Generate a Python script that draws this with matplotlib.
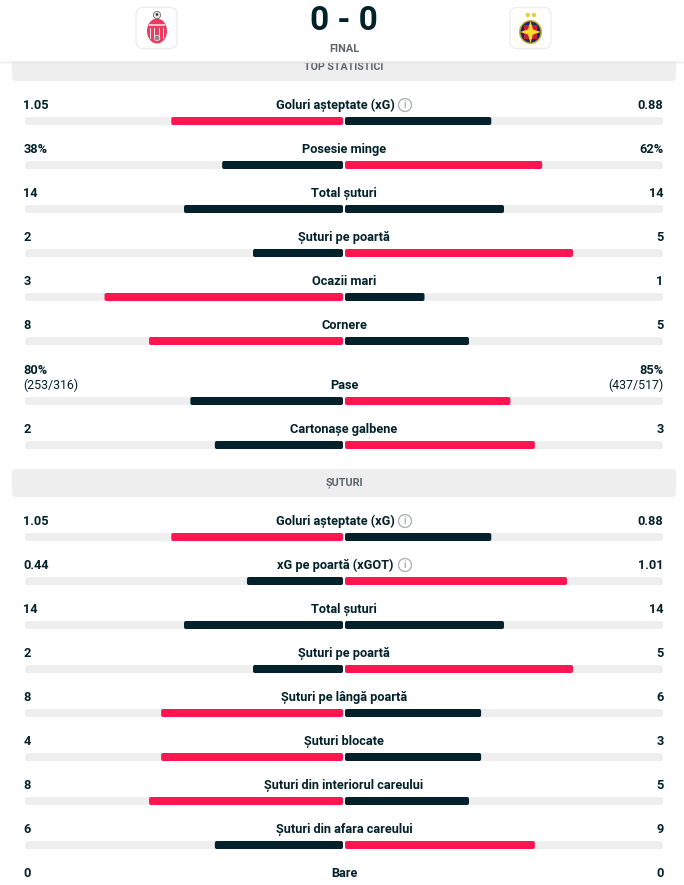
import matplotlib
matplotlib.use("Agg")
import matplotlib.pyplot as plt
from matplotlib.patches import FancyBboxPatch, Circle, Ellipse, Rectangle, Polygon

plt.rcParams["font.family"] = ["Roboto", "DejaVu Sans"]

# colours
DARK = "#02212a"
RED = "#ff1650"
TRACK = "#eeeeee"
GREY = "#5c6468"

# top stats
top_labels = ["Goluri așteptate (xG)", "Posesie minge", "Total șuturi", "Șuturi pe poartă",
              "Ocazii mari", "Cornere", "Pase", "Cartonașe galbene"]
top_home = [1.05, 38, 14, 2, 3, 8, 80, 2]
top_away = [0.88, 62, 14, 5, 1, 5, 85, 3]
top_home_text = ["1.05", "38%", "14", "2", "3", "8", "80%", "2"]
top_away_text = ["0.88", "62%", "14", "5", "1", "5", "85%", "3"]
# home share of the bar, percent
top_share = [54, 38, 50, 28.3, 75, 61, 48, 40.3]
top_y = [105, 149, 193, 237, 281, 325, 385, 429]

# shots
shot_labels = ["Goluri așteptate (xG)", "xG pe poartă (xGOT)", "Total șuturi", "Șuturi pe poartă",
               "Șuturi pe lângă poartă", "Șuturi blocate", "Șuturi din interiorul careului",
               "Șuturi din afara careului", "Bare"]
shot_home = [1.05, 0.44, 14, 2, 8, 4, 8, 6, 0]
shot_away = [0.88, 1.01, 14, 5, 6, 3, 5, 9, 0]
shot_home_text = ["1.05", "0.44", "14", "2", "8", "4", "8", "6", "0"]
shot_away_text = ["0.88", "1.01", "14", "5", "6", "3", "5", "9", "0"]
shot_share = [54, 30.2, 50, 28.3, 57.2, 57.2, 61, 40.3, 50]
shot_y = [521, 565, 609, 653, 697, 741, 785, 829, 873]

# these labels carry an info icon, and sit left of centre to make room for it
info_labels = ["Goluri așteptate (xG)", "xG pe poartă (xGOT)"]

fig = plt.figure(figsize=(6.84, 8.85), dpi=100)
ax = fig.add_axes([0, 0, 1, 1])
ax.set_xlim(0, 684)
ax.set_ylim(885, 0)
ax.axis("off")

LEFT, MID_L, MID_R, RIGHT = 25, 343, 345, 663
HALF = MID_L - LEFT
SIZE = 9.2


def rbox(x, y, w, h, color, r=2, z=2):
    ax.add_patch(FancyBboxPatch((x, y), w, h, boxstyle=f"round,pad=0,rounding_size={r}",
                                fc=color, ec="none", zorder=z))


def info_icon(x, y):
    ax.add_patch(Circle((x, y), 6.5, fc="white", ec="#a8acae", lw=0.9, zorder=3))
    ax.text(x, y, "i", ha="center", va="center", fontsize=7.5, color="#8a8f92", zorder=4)


def stat_row(label, home, away, home_text, away_text, share, y):
    # the Pase row has its percentages one line higher
    side_y = y - 15 if label == "Pase" else y
    label_x = 344
    if label in info_labels:
        label_x = 335.5
        info_icon(405, y)
    ax.text(label_x, y + 0.5, label, ha="center", va="center", fontsize=SIZE, fontweight="bold", color=DARK)
    ax.text(LEFT - 1.5, side_y + 0.5, home_text, ha="left", va="center", fontsize=SIZE, fontweight="bold", color=DARK)
    ax.text(RIGHT + 0.5, side_y + 0.5, away_text, ha="right", va="center", fontsize=SIZE, fontweight="bold", color=DARK)
    bar_y = y + 12
    rbox(LEFT, bar_y, MID_L - LEFT, 8, TRACK, z=1)
    rbox(MID_R, bar_y, RIGHT - MID_R, 8, TRACK, z=1)
    home_w = HALF * share / 100
    away_w = HALF * (100 - share) / 100
    rbox(MID_L - home_w, bar_y, home_w, 8, RED if home > away else DARK)
    rbox(MID_R, bar_y, away_w, 8, RED if away > home else DARK)


# section bands
rbox(12, 40, 664, 41, TRACK, r=4)
rbox(12, 469, 664, 28, TRACK, r=4)
ax.text(344, 483, "ȘUTURI", ha="center", va="center", fontsize=7.8, fontweight="bold", color=GREY)

# header
ax.add_patch(Rectangle((0, 0), 684, 61, fc="white", ec="none", zorder=3))
ax.plot([0, 684], [61.5, 61.5], color="#e8e8e8", lw=1, zorder=4)
ax.text(344, 67, "TOP STATISTICI", ha="center", va="center", fontsize=7.6, fontweight="bold", color=GREY)
ax.text(344, 21.5, "0 - 0", ha="center", va="center", fontsize=24, fontweight="bold", color=DARK, zorder=5)
ax.text(344, 49, "FINAL", ha="center", va="center", fontsize=7.8, fontweight="bold", color=GREY, zorder=5)

# logo tiles
for x0 in (136, 510):
    ax.add_patch(FancyBboxPatch((x0, 7.5), 41, 41, boxstyle="round,pad=0,rounding_size=7",
                                fc="white", ec="#eeeeee", lw=1, zorder=5))

# home crest
ax.add_patch(Ellipse((157, 31), 20, 25, fc="#ee3a5e", ec="none", zorder=6))
for sx in (150.5, 154.5, 159.5, 163.5):
    ax.add_patch(Rectangle((sx - 0.8, 28), 1.6, 11, fc="#fbe3e8", ec="none", zorder=7))
ax.add_patch(Rectangle((149, 24), 16, 1.6, fc="#f7c3cf", ec="none", zorder=7))
ax.add_patch(Circle((157, 38), 2.8, fc="#8a8a8a", ec="#eeeeee", lw=0.5, zorder=8))
ax.add_patch(Circle((157, 15), 3.6, fc="#e6e6e6", ec="#555555", lw=0.5, zorder=8))
ax.add_patch(Circle((157, 14.5), 1.3, fc="#333333", ec="none", zorder=9))

# away crest
ax.add_patch(Ellipse((530.5, 32), 23, 24, fc="#c9aa35", ec="none", zorder=6))
ax.add_patch(Ellipse((530.5, 32), 20, 21, fc="#152a6b", ec="none", zorder=7))
ax.add_patch(Polygon([(524, 25), (537, 25), (537, 39), (524, 39)], fc="#c8202f", ec="none", zorder=7))
ax.add_patch(Polygon([(530.5, 21), (533, 29.5), (541, 32), (533, 34.5), (530.5, 43),
                      (528, 34.5), (520, 32), (528, 29.5)], fc="#ffd92e", ec="none", zorder=8))
for sx in (527.7, 534):
    ax.add_patch(Circle((sx, 15), 2.2, fc="#e4cf4a", ec="none", zorder=6))

# stat rows
for i in range(len(top_labels)):
    stat_row(top_labels[i], top_home[i], top_away[i], top_home_text[i], top_away_text[i], top_share[i], top_y[i])
for i in range(len(shot_labels)):
    stat_row(shot_labels[i], shot_home[i], shot_away[i], shot_home_text[i], shot_away_text[i], shot_share[i], shot_y[i])

# pass counts under the percentages
ax.text(23.5, 385.5, "(253/316)", ha="left", va="center", fontsize=8.9, color=DARK)
ax.text(663.5, 385.5, "(437/517)", ha="right", va="center", fontsize=8.9, color=DARK)

fig.savefig("out.png", dpi=100)
